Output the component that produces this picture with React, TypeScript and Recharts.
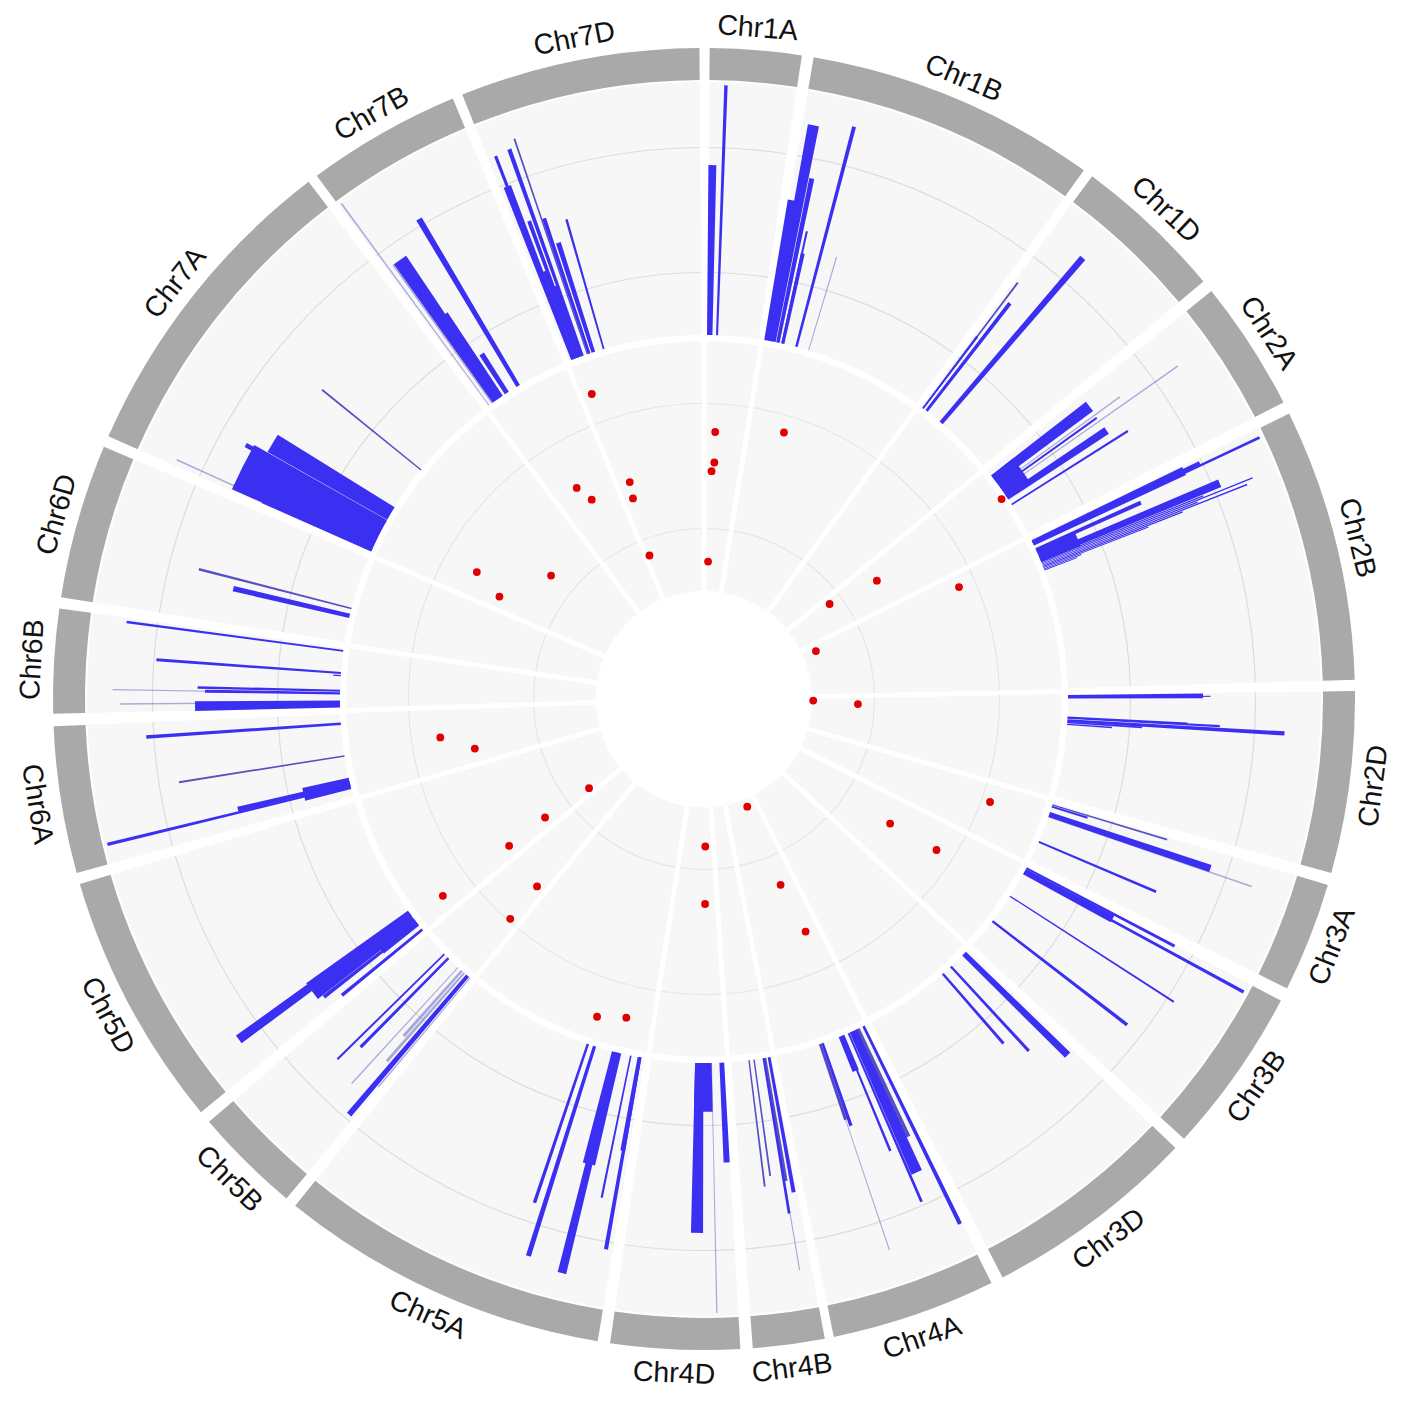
import React from 'react';
import { PieChart, Pie, Cell } from 'recharts';

type Bar = [number, number, number]; // genome angle, interval length, score
type Dot = [number, number]; // genome angle, score

const chrNames = ['Chr1A', 'Chr1B', 'Chr1D', 'Chr2A', 'Chr2B', 'Chr2D', 'Chr3A', 'Chr3B', 'Chr3D', 'Chr4A', 'Chr4B', 'Chr4D', 'Chr5A', 'Chr5B', 'Chr5D', 'Chr6A', 'Chr6B', 'Chr6D', 'Chr7A', 'Chr7B', 'Chr7D'];
const chrStart = [0.5, 9.7, 36.6, 51.2, 64.0, 89.3, 106.6, 117.6, 133.6, 153.8, 169.3, 176.8, 189.4, 219.9, 230.6, 254.5, 268.7, 279, 293.8, 323.5, 338.2];
const chrEnd = [8.65, 35.7, 50.1, 62.9, 88.3, 105.5, 116.4, 132.5, 152.7, 168.5, 175.7, 188.3, 218.9, 229.5, 253.5, 267.6, 278, 292.8, 322.6, 337.3, 359.6];
const gridTicks = [25, 75];

const bars1: Bar[] = [
  [0.9, 0.85, 68], [2.05, 0.32, 100],
  [10.8, 1.1, 88], [11.7, 0.55, 67], [10.0, 0.95, 57], [12.4, 0.25, 46], [12.5, 0.5, 37], [14.7, 0.38, 91],
  [37.0, 0.3, 36], [37.7, 0.45, 54.5], [40.65, 0.65, 87],
];
const bars2: Bar[] = [
  [52.8, 1.4, 48], [54.4, 4.6, 11], [54.4, 0.25, 47.6], [56.3, 0.95, 48], [57.7, 0.25, 55],
  [64.6, 0.95, 67], [64.6, 0.5, 74], [64.8, 0.25, 100], [65.8, 0.5, 46], [67.3, 0.85, 78], [66.8, 2.2, 17],
  [67.85, 0.14, 70], [68.05, 0.14, 91], [68.25, 0.14, 67], [68.45, 0.14, 88], [68.65, 0.14, 60], [68.85, 0.14, 45], [69.05, 0.14, 16], [69.25, 0.14, 14],
  [89.65, 0.55, 54], [93.4, 0.42, 87], [93.0, 0.25, 61], [92.9, 0.25, 48], [93.7, 0.22, 30], [94.0, 0.2, 18],
];
const bars3: Bar[] = [
  [107.2, 0.3, 15], [108.5, 0.8, 68], [113.1, 0.32, 51],
  [118.3, 0.95, 40], [117.7, 0.32, 67], [118.5, 0.32, 100], [122.8, 0.2, 78], [127.6, 0.38, 68],
  [134.4, 0.85, 58], [137.3, 0.38, 46], [139, 0.38, 37],
];
const bars4: Bar[] = [
  [154.0, 0.42, 88], [155.8, 1.25, 62], [156.6, 0.3, 73.5], [157.6, 0.3, 50], [157.8, 0.95, 15], [161, 0.42, 35],
  [169.7, 0.45, 55], [170.6, 0.3, 63], [180.1, 2.6, 19.5], [180.75, 1.3, 68], [177.2, 0.75, 40],
];
const bars5: Bar[] = [
  [190.1, 0.42, 78], [190.2, 0.6, 38], [191.6, 0.25, 58], [193.9, 1.5, 46], [193.9, 0.85, 91], [197.5, 0.5, 88], [198.6, 0.38, 67],
  [220.5, 0.6, 73], [224.6, 0.38, 50], [225.5, 0.25, 60],
  [233.8, 0.95, 85], [233.3, 2.3, 50], [231.9, 0.45, 47.6], [230.7, 0.42, 41.6], [232.1, 1.2, 18],
];
const bars6: Bar[] = [
  [256.6, 1.8, 19], [256.7, 0.6, 46], [256.3, 0.32, 100], [266.1, 0.38, 78],
  [269.2, 1.1, 58], [271.3, 0.3, 57], [270.9, 0.35, 54], [274.1, 0.32, 74], [273.7, 0.2, 3], [277.6, 0.25, 87.4],
  [283.2, 0.65, 47.8],
];
const bars7: Bar[] = [
  [296.7, 5.5, 61], [294.15, 0.5, 48], [300.65, 2.3, 55], [299, 0.5, 64],
  [325.3, 1.6, 68], [326.0, 0.9, 40], [327.2, 0.75, 18.6], [329.3, 0.65, 77.7],
  [339, 0.32, 87], [339, 0.8, 74], [339.7, 0.7, 37], [340.3, 0.5, 30], [340.5, 0.42, 87.7], [339.9, 0.45, 58], [341.6, 0.45, 57], [342.3, 0.6, 46], [344, 0.28, 54],
];
// thin, paler intervals
const mediumBars: Bar[] = [
  [37.0, 0.22, 63], [89.7, 0.15, 57], [106.9, 0.22, 48], [161.4, 0.4, 32], [170.4, 0.5, 50], [172.1, 0.22, 47], [172.9, 0.22, 51],
  [261, 0.22, 67], [284.4, 0.27, 63], [309, 0.22, 51], [341.3, 0.18, 91], [155, 0.6, 47.6],
];
const faintBars: Bar[] = [
  [16.7, 0.15, 39], [54.9, 0.15, 86], [54, 0.15, 60], [108.9, 0.15, 86], [161.4, 0.12, 87], [170.5, 0.12, 86], [178.8, 0.12, 100],
  [222.5, 0.15, 63], [220, 0.15, 57], [221.2, 0.35, 47], [221.7, 0.4, 35],
  [269.5, 0.15, 88], [270.9, 0.12, 91], [294.4, 0.15, 86], [323.8, 0.15, 100], [324.4, 0.2, 68],
];
const peaks: Dot[] = [
  [2.4, 63.7], [2.5, 51.5], [1.9, 48], [1.7, 11.8], [16.7, 68.1], [55.6, 40.6], [52.9, 19.8], [66.3, 68.2], [66.8, 5.5], [90.8, 0.5],
  [91.9, 18.4], [109.8, 78.4], [123.8, 46.4], [123, 67.7], [158.1, 3.2], [157.6, 37.2], [156.4, 58.3], [179.5, 15.8], [179.7, 38.8], [193.7, 88],
  [198.6, 90.9], [232.2, 15], [233.3, 36.1], [233, 54.4], [221.7, 57.2], [221.4, 74], [233, 87.6], [257.8, 50.6], [261.7, 63.4], [296.6, 48.3],
  [299.2, 60.9], [308.9, 35.4], [328.9, 55.4], [330.6, 48.3], [341.1, 48.5], [340.5, 41.9], [339.2, 18.2], [339.8, 86.8], [56.1, 100.2],
];

const CX = 704;
const CY = 699;
const BLUE = '#3b30f2';
const outerScale = (v: number) => 364 + 2.5 * v;
const innerScale = (v: number) => 108 + 2.5 * v;

// bars that overlap cannot share a Pie, so split them in layers
function toLayers(items: Bar[]) {
  const sorted = [...items].sort((a, b) => a[0] - a[1] / 2 - (b[0] - b[1] / 2));
  const layers: { end: number; rows: any[] }[] = [];
  sorted.forEach(([at, span, score]) => {
    const start = at - span / 2;
    let layer = layers.find((l) => l.end <= start);
    if (!layer) {
      layer = { end: 0, rows: [] };
      layers.push(layer);
    }
    layer.rows.push({ value: start - layer.end, score: 0, mark: false });
    layer.rows.push({ value: span, score, mark: true });
    layer.end = start + span;
  });
  layers.forEach((l) => l.rows.push({ value: 360 - l.end, score: 0, mark: false }));
  return layers.map((l) => l.rows);
}

const chrRows: any[] = [];
chrNames.forEach((name, i) => {
  const prevEnd = i === 0 ? 0 : chrEnd[i - 1];
  chrRows.push({ name: '', value: chrStart[i] - prevEnd, mark: false });
  chrRows.push({ name, value: chrEnd[i] - chrStart[i], mark: true });
});
chrRows.push({ name: '', value: 360 - chrEnd[chrEnd.length - 1], mark: false });

// inner track sectors touch, the white outline makes the gaps
const innerRows: any[] = chrNames.map((name, i) => {
  const prevEnd = i === 0 ? chrEnd[chrEnd.length - 1] - 360 : chrEnd[i - 1];
  const nextStart = i === chrNames.length - 1 ? chrStart[0] + 360 : chrStart[i + 1];
  return { name, value: (nextStart + chrEnd[i]) / 2 - (prevEnd + chrStart[i]) / 2 };
});
const innerFirstAngle = 90 - (chrEnd[chrEnd.length - 1] - 360 + chrStart[0]) / 2;

const polarBase = { cx: CX, cy: CY, dataKey: 'value', startAngle: 90, endAngle: -270, stroke: 'none', isAnimationActive: false };

function ChrLabel(props: any) {
  const { midAngle, payload, index } = props;
  const name = chrRows[index]?.name ?? payload?.name;
  if (!name) return null;
  const theta = (((90 - midAngle) % 360) + 360) % 360;
  const rad = (theta * Math.PI) / 180;
  const x = CX + 674 * Math.sin(rad);
  const y = CY - 674 * Math.cos(rad);
  const rotate = theta < 90 ? theta : theta < 270 ? theta - 180 : theta - 360;
  return (
    <text x={x} y={y} textAnchor="middle" dominantBaseline="central" fontFamily="'Liberation Sans'" fontSize={28.5} fill="#111" transform={`rotate(${rotate} ${x} ${y})`}>
      {name}
    </text>
  );
}

function PeakDot(props: any) {
  const { midAngle, outerRadius } = props;
  if (!props.payload?.mark && !props.mark) return null;
  const rad = (-midAngle * Math.PI) / 180;
  return <circle cx={CX + outerRadius * Math.cos(rad)} cy={CY + outerRadius * Math.sin(rad)} r={3.9} fill="#e00000" />;
}

function trackRing(radius: number, colour: string, key: string, rows: any[]) {
  return (
    <Pie key={key} {...polarBase} data={rows} innerRadius={radius - 0.6} outerRadius={radius + 0.6}>
      {rows.map((r, i) => <Cell key={i} fill={r.mark ? colour : 'none'} />)}
    </Pie>
  );
}

function barPies(items: Bar[], colour: string, opacity: number, key: string) {
  return toLayers(items).map((rows, n) => (
    <Pie key={`${key}${n}`} {...polarBase} data={rows} innerRadius={364} outerRadius={(d: any) => (d.mark ? outerScale(d.score) : 364)}>
      {rows.map((r: any, i: number) => <Cell key={i} fill={r.mark ? colour : 'none'} fillOpacity={opacity} />)}
    </Pie>
  ));
}

const solidBars = [...bars1, ...bars2, ...bars3, ...bars4, ...bars5, ...bars6, ...bars7];
const peakLayers = toLayers(peaks.map(([at, score]) => [at, 0.3, score] as Bar));

export default function App() {
  return (
    <div style={{ position: 'absolute', left: 0, top: 0, width: 1417, height: 1417, background: '#fff' }}>
      <PieChart width={1417} height={1417} margin={{ top: 0, right: 0, bottom: 0, left: 0 }}>
        {/* chromosome ring */}
        <Pie {...polarBase} data={chrRows} innerRadius={619} outerRadius={651} label={(p: any) => <ChrLabel {...p} />} labelLine={false}>
          {chrRows.map((r, i) => <Cell key={i} fill={r.mark ? '#a9a9a9' : 'none'} />)}
        </Pie>
        {/* outer track */}
        <Pie {...polarBase} data={chrRows} innerRadius={364} outerRadius={617}>
          {chrRows.map((r, i) => <Cell key={i} fill={r.mark ? '#f7f7f7' : 'none'} />)}
        </Pie>
        {gridTicks.map((t) => trackRing(outerScale(t), '#dddddd', `og${t}`, chrRows))}
        {barPies(faintBars, '#6a68c4', 0.55, 'f')}
        {barPies(mediumBars, '#3a32b8', 0.85, 'm')}
        {barPies(solidBars, BLUE, 1, 's')}
        {/* inner track */}
        <Pie {...polarBase} data={innerRows} startAngle={innerFirstAngle} endAngle={innerFirstAngle - 360} innerRadius={106} outerRadius={360} fill="#f7f7f7" />
        {gridTicks.map((t) => (
          <Pie key={`ig${t}`} {...polarBase} data={innerRows} startAngle={innerFirstAngle} endAngle={innerFirstAngle - 360} innerRadius={innerScale(t) - 0.6} outerRadius={innerScale(t) + 0.6} fill="#e6e6e6" />
        ))}
        <Pie {...polarBase} data={innerRows} startAngle={innerFirstAngle} endAngle={innerFirstAngle - 360} innerRadius={106} outerRadius={360} fill="none" stroke="#fff" strokeWidth={4.5} />
        {peakLayers.map((rows, n) => (
          <Pie key={`p${n}`} {...polarBase} data={rows} innerRadius={100} outerRadius={(d: any) => (d.mark ? innerScale(d.score) : 100)} fill="none" labelLine={false} label={(p: any) => <PeakDot {...p} />} />
        ))}
      </PieChart>
    </div>
  );
}
